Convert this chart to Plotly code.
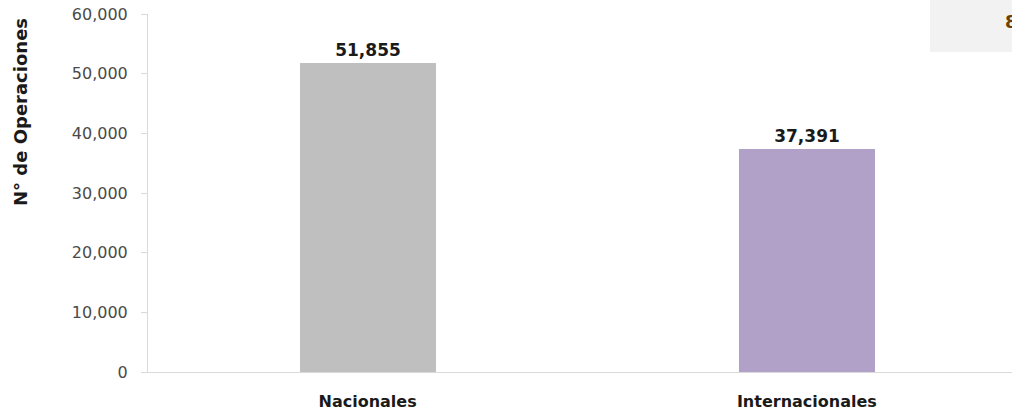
import plotly.graph_objects as go

# Data
categories = ["Nacionales", "Internacionales"]
operaciones = [51855, 37391]
bar_colors = ["#bfbfbf", "#b1a0c7"]
y_ticks = [0, 10000, 20000, 30000, 40000, 50000, 60000]

W, H = 1012, 413
ML, MT, MB = 148, 14, 41


def py(p):
    # pixel row (from top) -> paper y
    return (H - MB - p) / (H - MT - MB)


def px(p):
    # pixel column -> paper x
    return (p - ML) / (W - ML)


fig = go.Figure()
fig.add_trace(go.Bar(
    x=categories,
    y=operaciones,
    width=0.31,
    marker=dict(color=bar_colors, line_width=0),
    text=[f"{v:,}" for v in operaciones],
    textposition="outside",
    textfont=dict(family="DejaVu Sans", size=17, color="#1a1a1a", weight="bold"),
    cliponaxis=False,
))

fig.update_layout(
    width=W,
    height=H,
    margin=dict(l=ML, r=0, t=MT, b=MB, autoexpand=False),
    paper_bgcolor="white",
    plot_bgcolor="white",
    showlegend=False,
    bargap=0,
    xaxis=dict(
        range=[-0.5, 1.467],
        showgrid=False,
        showline=True,
        linecolor="#d9d9d9",
        linewidth=1,
        ticks="",
        ticklabelstandoff=15,
        tickfont=dict(family="DejaVu Sans", size=16, color="#1a1a1a", weight="bold"),
    ),
    yaxis=dict(
        range=[0, 60000],
        tickvals=y_ticks,
        tickformat=",d",
        showgrid=False,
        showline=True,
        linecolor="#d9d9d9",
        linewidth=1,
        ticks="outside",
        ticklen=6,
        tickcolor="#d9d9d9",
        ticklabelstandoff=10,
        tickfont=dict(family="DejaVu Sans", size=16, color="#4a4a4a"),
        zeroline=False,
    ),
)

# Y-axis title placed as in the original (upper part of the axis)
fig.add_annotation(
    xref="paper", yref="paper",
    x=px(20), y=py(112),
    xanchor="center", yanchor="middle",
    text="N° de Operaciones",
    textangle=-90,
    showarrow=False,
    font=dict(family="DejaVu Sans", size=18, color="#1a1a1a", weight="bold"),
)

# Partly visible box in the top-right corner
fig.add_shape(
    type="rect", xref="paper", yref="paper",
    x0=px(930), x1=1.0,
    y0=py(52), y1=py(-20),
    fillcolor="#f2f2f2", line_width=0, layer="below",
)
fig.add_annotation(
    xref="paper", yref="paper",
    x=px(1003), y=py(22),
    xanchor="left", yanchor="middle",
    text="8",
    showarrow=False,
    font=dict(family="DejaVu Sans", size=18, color="#6b4000", weight="bold"),
)

fig.write_html("out.html", config={"displayModeBar": False},
               post_script="document.body.style.margin='0';")
